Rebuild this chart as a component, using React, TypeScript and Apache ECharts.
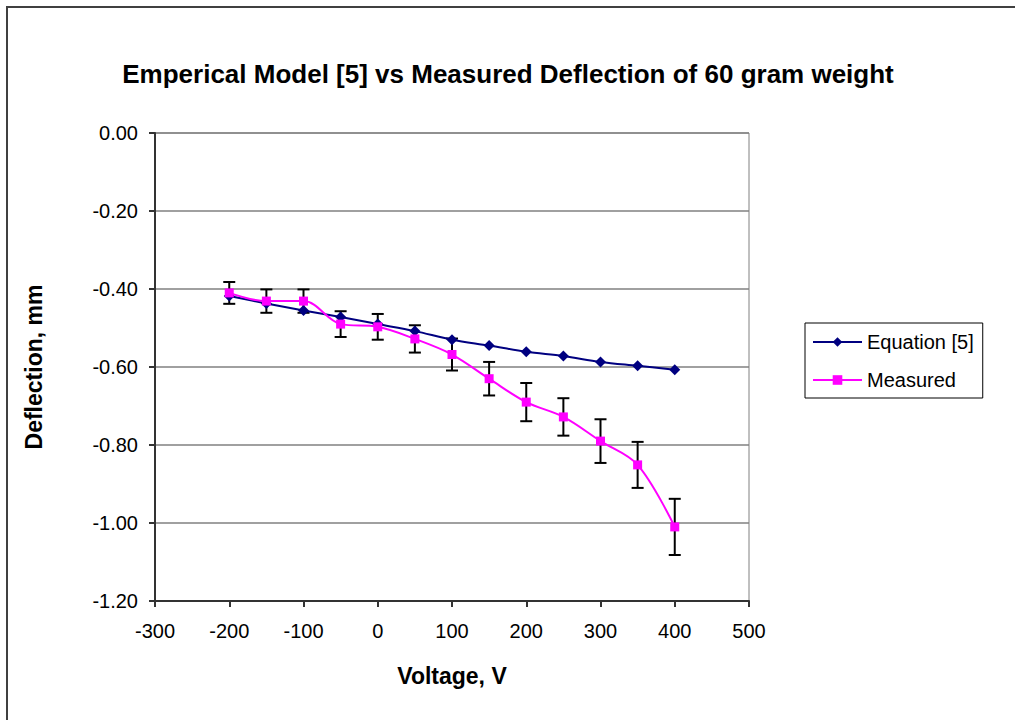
import React, { useEffect, useRef } from "react";
import * as echarts from "echarts";

const voltage = [-200, -150, -100, -50, 0, 50, 100, 150, 200, 250, 300, 350, 400];
const equation = [-0.418, -0.437, -0.455, -0.472, -0.49, -0.508, -0.53, -0.545, -0.561, -0.572, -0.587, -0.597, -0.607];
const measured = [-0.41, -0.431, -0.431, -0.49, -0.497, -0.528, -0.568, -0.63, -0.69, -0.728, -0.79, -0.851, -1.01];
const measuredError = [0.028, 0.03, 0.03, 0.033, 0.033, 0.035, 0.041, 0.043, 0.049, 0.048, 0.056, 0.059, 0.072];

const titleText = "Emperical Model [5] vs Measured Deflection of 60 gram weight";
const xName = "Voltage, V";
const yName = "Deflection, mm";
const seriesNames = ["Equation [5]", "Measured"];

const FONT = "'Liberation Sans', Arial, sans-serif";

export default function App() {
  const ref = useRef<HTMLDivElement>(null);
  useEffect(() => {
    if (!ref.current) return;
    const chart = echarts.init(ref.current, null, { renderer: "svg" });
    const errData = voltage.map((v, i) => [v, measured[i] - measuredError[i], measured[i] + measuredError[i]]);
    chart.setOption({
      animation: false,
      backgroundColor: "#ffffff",
      textStyle: { fontFamily: FONT },
      grid: { left: 155, top: 133, width: 594, height: 468, show: true, borderColor: "#808080", borderWidth: 1, containLabel: false },
      xAxis: {
        type: "value",
        min: -300,
        max: 500,
        interval: 100,
        axisLine: { show: true, onZero: false, lineStyle: { color: "#333333", width: 2 } },
        axisTick: { show: true, inside: false, length: 6, lineStyle: { color: "#333333", width: 2 } },
        axisLabel: { color: "#000", fontSize: 20, fontFamily: FONT, margin: 20 },
        splitLine: { show: false },
      },
      yAxis: {
        type: "value",
        min: -1.2,
        max: 0,
        interval: 0.2,
        axisLine: { show: true, onZero: false, lineStyle: { color: "#333333", width: 2 } },
        axisTick: { show: true, inside: false, length: 6, lineStyle: { color: "#333333", width: 2 } },
        axisLabel: { color: "#000", fontSize: 20, fontFamily: FONT, margin: 17, formatter: (v: number) => v.toFixed(2) },
        splitLine: { show: true, lineStyle: { color: "#808080", width: 1.5 } },
      },
      legend: {
        orient: "vertical",
        left: 805,
        top: 323,
        width: 179,
        data: seriesNames,
        backgroundColor: "#fff",
        borderColor: "#000",
        borderWidth: 1,
        borderRadius: 0,
        padding: [9, 9, 8, 7],
        itemGap: 18,
        itemWidth: 49,
        itemHeight: 12,
        textStyle: { fontSize: 20, fontFamily: FONT, color: "#000", lineHeight: 20, padding: [0, 0, 0, 0] },
      },
      series: [
        {
          name: "errors",
          type: "custom",
          z: 1,
          data: errData,
          renderItem: (params: any, api: any) => {
            const x = api.value(0);
            const lo = api.coord([x, api.value(1)]);
            const hi = api.coord([x, api.value(2)]);
            const cap = 6;
            const st = { stroke: "#000", lineWidth: 2 };
            return {
              type: "group",
              children: [
                { type: "line", shape: { x1: lo[0], y1: lo[1], x2: hi[0], y2: hi[1] }, style: st },
                { type: "line", shape: { x1: lo[0] - cap, y1: lo[1], x2: lo[0] + cap, y2: lo[1] }, style: st },
                { type: "line", shape: { x1: hi[0] - cap, y1: hi[1], x2: hi[0] + cap, y2: hi[1] }, style: st },
              ],
            };
          },
        },
        {
          name: seriesNames[0],
          type: "line",
          z: 3,
          smooth: 0.35,
          data: voltage.map((v, i) => [v, equation[i]]),
          symbol: "diamond",
          symbolSize: 11,
          itemStyle: { color: "#000080" },
          lineStyle: { color: "#000080", width: 2 },
        },
        {
          name: seriesNames[1],
          type: "line",
          z: 4,
          smooth: 0.35,
          data: voltage.map((v, i) => [v, measured[i]]),
          symbol: "rect",
          symbolSize: 9,
          itemStyle: { color: "#ff00ff" },
          lineStyle: { color: "#ff00ff", width: 2 },
        },
      ],
      graphic: [
        {
          type: "rect",
          silent: true,
          shape: { x: 7, y: 7, width: 1100, height: 800 },
          style: { fill: "none", stroke: "#404040", lineWidth: 2 },
        },
        {
          type: "text",
          x: 508,
          y: 74,
          style: { text: titleText, fill: "#000", font: `bold 26px ${FONT}`, textAlign: "center", textVerticalAlign: "middle" },
        },
        {
          type: "text",
          x: 452,
          y: 676,
          style: { text: xName, fill: "#000", font: `bold 23px ${FONT}`, textAlign: "center", textVerticalAlign: "middle" },
        },
        {
          type: "text",
          x: 34,
          y: 367,
          rotation: Math.PI / 2,
          style: { text: yName, fill: "#000", font: `bold 23px ${FONT}`, textAlign: "center", textVerticalAlign: "middle" },
        },
      ],
    });
    return () => chart.dispose();
  }, []);
  return <div ref={ref} style={{ position: "fixed", left: 0, top: 0, width: 1015, height: 720 }} />;
}
